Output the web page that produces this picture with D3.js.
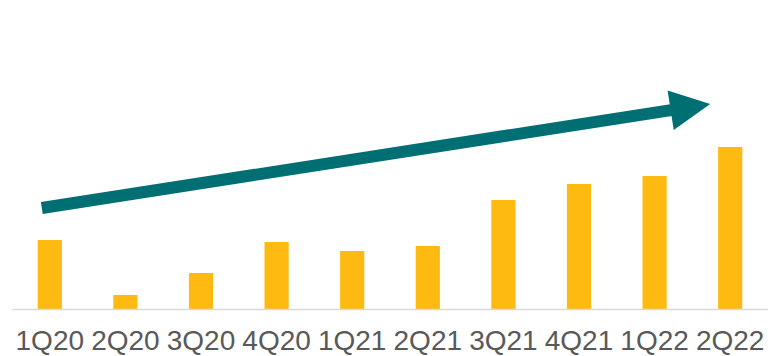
<!DOCTYPE html>
<html>
<head>
<meta charset="utf-8">
<script src="https://cdn.jsdelivr.net/npm/d3@7"></script>
<style>
  body { margin: 0; background: #fff; }
  svg { display: block; }
</style>
</head>
<body>
<div id="chart"></div>
<script>
// chart data
const quarters = ["1Q20", "2Q20", "3Q20", "4Q20", "1Q21", "2Q21", "3Q21", "4Q21", "1Q22", "2Q22"];
const values = [69, 14, 36, 67, 58, 63, 109, 125, 133, 162];
// trend arrow, from first to last quarter (value units)
const arrowFrom = 101;
const arrowTo = 205;

const width = 768, height = 356;
const margin = {top: 0, right: 0, bottom: 47, left: 12};
const barColor = "#FFBA12";
const arrowColor = "#006F73";

const svg = d3.select("#chart").append("svg")
    .attr("width", width)
    .attr("height", height);

const x = d3.scaleBand()
    .domain(quarters)
    .range([margin.left, width - margin.right])
    .paddingInner(0.68)
    .paddingOuter(0.34);

const y = d3.scaleLinear()
    .domain([0, 309])
    .range([height - margin.bottom, 0]);

// bars
svg.selectAll(".bar")
    .data(quarters)
    .enter().append("rect")
    .attr("class", "bar")
    .attr("x", d => x(d))
    .attr("width", x.bandwidth())
    .attr("y", (d, i) => y(values[i]))
    .attr("height", (d, i) => y(0) - y(values[i]))
    .attr("fill", barColor);

// baseline + labels
const xAxis = d3.axisBottom(x).tickSize(0).tickPadding(0);
const gx = svg.append("g")
    .attr("transform", `translate(0,${y(0)})`)
    .call(xAxis);
gx.select(".domain").attr("stroke", "#D9D9D9").attr("stroke-width", 1.5);
gx.selectAll("text")
    .attr("y", 41)
    .attr("dy", 0)
    .attr("fill", "#595959")
    .style("font-family", "Liberation Sans, Arial, sans-serif")
    .style("font-size", "28px");

// trend arrow
const first = quarters[0], last = quarters[quarters.length - 1];
const x0 = x(first) + x.bandwidth() / 2 - 8;
const y0 = y(arrowFrom);
const x1 = x(last) + x.bandwidth() / 2 - 20;
const y1 = y(arrowTo);
const ang = Math.atan2(y1 - y0, x1 - x0);
const headLen = 40, headW = 40, shaftW = 12;
const bx = x1 - headLen * Math.cos(ang), by = y1 - headLen * Math.sin(ang);
const nx = -Math.sin(ang), ny = Math.cos(ang);

svg.append("line")
    .attr("x1", x0).attr("y1", y0)
    .attr("x2", bx + 2 * Math.cos(ang)).attr("y2", by + 2 * Math.sin(ang))
    .attr("stroke", arrowColor)
    .attr("stroke-width", shaftW);

svg.append("path")
    .attr("d", d3.line()([
        [x1, y1],
        [bx + nx * headW / 2, by + ny * headW / 2],
        [bx - nx * headW / 2, by - ny * headW / 2]
    ]) + "Z")
    .attr("fill", arrowColor);
</script>
</body>
</html>
